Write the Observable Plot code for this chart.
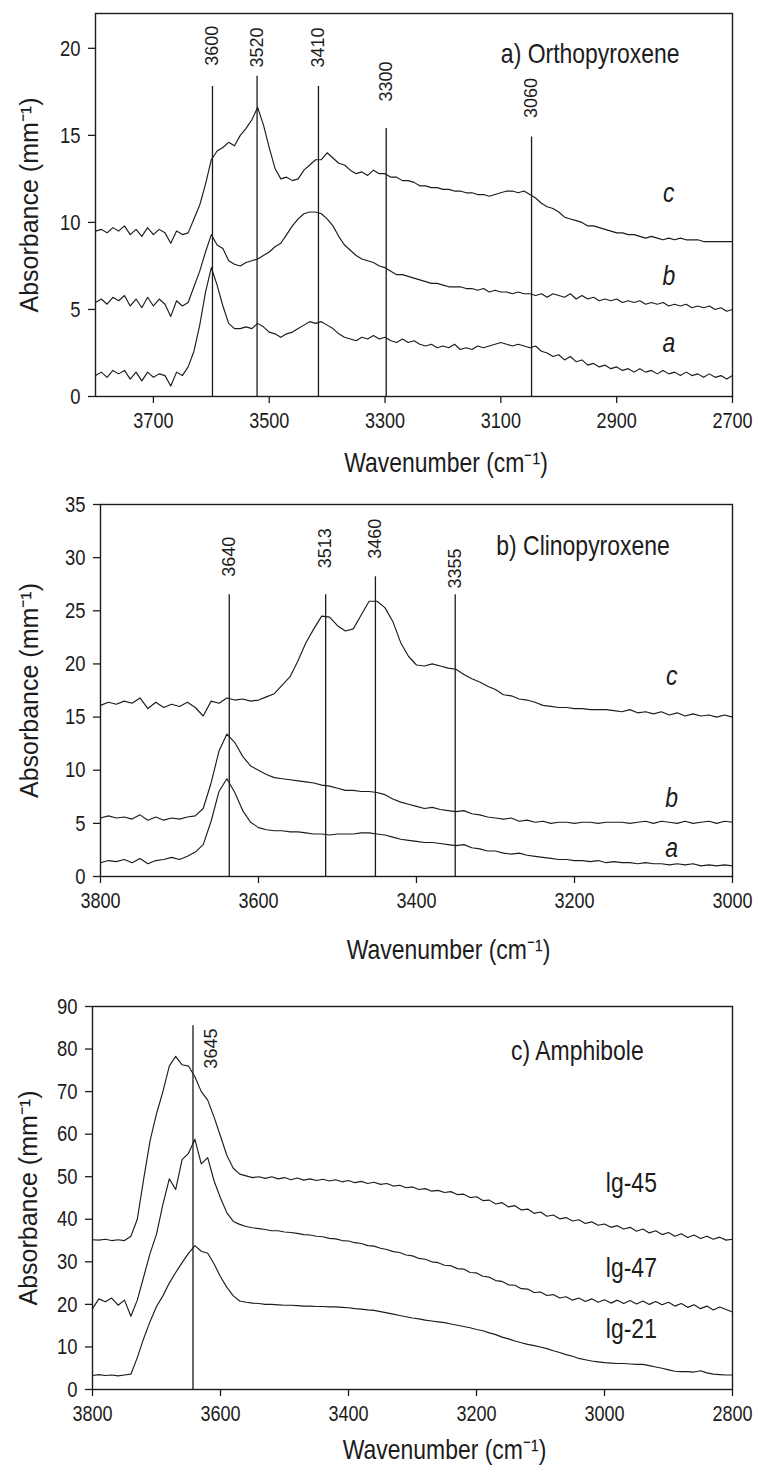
<!DOCTYPE html>
<html>
<head>
<meta charset="utf-8">
<script src="https://cdn.jsdelivr.net/npm/d3@7"></script>
<script src="https://cdn.jsdelivr.net/npm/@observablehq/plot@0.6"></script>
<style>
  html, body { margin: 0; padding: 0; background: #fff; }
  #chart { width: 758px; }
  #chart svg { display: block; }
</style>
</head>
<body>
<div id="chart"></div>
<script>
// ---------- Panel a) Orthopyroxene : wavenumber grid 3800 → 2700, step 10 ----------
const aStart = 3800, aStep = 10;
const aSeriesC = [9.5,9.6,9.4,9.7,9.5,9.8,9.3,9.6,9.2,9.7,9.3,9.6,9.4,8.8,9.5,9.3,9.4,10.2,11.0,12.2,13.6,14.1,14.3,14.6,14.4,15.0,15.4,15.9,16.6,15.6,14.3,13.1,12.5,12.6,12.4,12.5,13.0,13.3,13.6,13.6,14.0,13.7,13.4,13.3,13.0,12.8,12.9,12.7,13.0,12.8,12.8,12.6,12.6,12.4,12.4,12.3,12.1,12.1,12.0,12.0,11.9,11.9,11.8,11.8,11.7,11.7,11.6,11.6,11.5,11.6,11.7,11.8,11.8,11.7,11.8,11.6,11.4,11.1,10.9,10.8,10.6,10.3,10.2,10.1,10.0,9.8,9.8,9.7,9.6,9.5,9.4,9.4,9.3,9.3,9.2,9.1,9.2,9.1,9.0,9.1,9.0,9.1,9.0,9.0,9.0,8.9,8.9,8.9,8.9,8.9,8.9];
const aSeriesB = [5.4,5.6,5.3,5.7,5.5,5.8,5.2,5.6,5.1,5.7,5.2,5.6,5.3,4.6,5.5,5.2,5.4,6.3,7.2,8.3,9.3,8.7,8.5,7.8,7.6,7.5,7.7,7.8,7.9,8.1,8.3,8.6,8.8,9.3,9.8,10.2,10.5,10.6,10.6,10.5,10.2,9.8,9.2,8.7,8.4,8.1,7.9,7.8,7.7,7.5,7.4,7.2,7.0,7.0,6.9,6.8,6.7,6.6,6.5,6.5,6.4,6.3,6.3,6.3,6.2,6.2,6.1,6.2,6.0,6.1,6.0,6.0,5.9,6.0,5.9,5.9,5.8,5.9,5.7,5.9,5.8,5.7,5.9,5.6,5.8,5.6,5.7,5.5,5.6,5.5,5.6,5.4,5.5,5.4,5.5,5.3,5.4,5.3,5.4,5.2,5.3,5.2,5.3,5.1,5.2,5.1,5.2,5.0,5.1,4.9,5.0];
const aSeriesA = [1.2,1.4,1.1,1.5,1.3,1.5,1.0,1.4,0.9,1.4,1.1,1.3,1.2,0.6,1.4,1.2,1.7,2.6,4.1,6.0,7.4,6.4,5.2,4.2,3.9,3.9,4.0,3.9,4.2,4.0,3.7,3.6,3.4,3.6,3.7,3.9,4.1,4.3,4.2,4.3,4.1,3.9,3.6,3.4,3.3,3.2,3.4,3.3,3.5,3.3,3.4,3.2,3.1,3.3,3.1,3.2,3.0,2.9,3.0,2.8,2.9,2.8,3.0,2.7,2.8,2.7,2.9,2.8,2.9,3.0,3.1,3.0,2.9,3.0,2.9,2.8,2.9,2.6,2.5,2.3,2.4,2.1,2.3,2.0,2.1,1.8,1.9,1.7,1.8,1.6,1.7,1.5,1.6,1.4,1.6,1.4,1.5,1.3,1.5,1.3,1.4,1.2,1.4,1.2,1.3,1.1,1.3,1.1,1.2,1.0,1.2];
const aXTicks = [3700, 3500, 3300, 3100, 2900, 2700];
const aYTicks = [0, 5, 10, 15, 20];
const aMarkerX = [3598, 3521, 3415, 3298, 3047];
const aMarkerTop = [17.8, 18.4, 17.8, 15.4, 14.9];
const aMarkerLabel = ["3600", "3520", "3410", "3300", "3060"];
const aMarkerLabelY = [19.0, 18.9, 18.9, 16.95, 16.0];
const aCurveNames = ["c", "b", "a"];
const aCurveLabelY = [11.7, 6.9, 3.1];
const aCurveLabelX = 2810;
const aTitle = "a) Orthopyroxene";

// ---------- Panel b) Clinopyroxene : 3800 → 3000, step 10 ----------
const bStart = 3800, bStep = 10;
const bSeriesC = [16.1,16.4,16.2,16.5,16.3,16.8,15.8,16.4,15.9,16.2,16.0,16.4,15.9,15.1,16.5,16.3,16.8,16.6,16.7,16.5,16.6,16.9,17.2,18.0,18.8,20.3,22.0,23.3,24.5,24.4,23.6,23.1,23.3,24.6,25.9,25.9,25.3,24.0,22.0,20.7,19.9,19.8,20.0,19.8,19.6,19.5,19.0,18.6,18.3,17.9,17.6,17.1,17.0,16.7,16.6,16.4,16.1,16.0,15.9,15.9,15.8,15.8,15.7,15.7,15.7,15.6,15.5,15.7,15.4,15.5,15.3,15.5,15.2,15.4,15.1,15.3,15.1,15.2,15.0,15.2,15.0];
const bSeriesB = [5.5,5.7,5.5,5.6,5.4,5.8,5.3,5.6,5.3,5.5,5.4,5.6,5.7,6.4,8.8,11.8,13.4,12.6,11.3,10.4,10.0,9.6,9.3,9.2,9.1,9.0,8.9,8.8,8.6,8.5,8.3,8.1,8.1,8.0,8.0,7.9,7.7,7.3,7.0,6.8,6.6,6.4,6.5,6.3,6.2,6.1,6.2,5.9,5.8,5.6,5.5,5.4,5.5,5.2,5.3,5.1,5.2,5.0,5.1,5.1,5.0,5.1,5.1,5.0,5.1,5.1,5.1,5.0,5.1,5.2,5.0,5.2,5.1,5.0,5.2,5.0,5.1,5.2,5.0,5.2,5.1];
const bSeriesA = [1.3,1.5,1.4,1.6,1.3,1.7,1.2,1.5,1.6,1.8,1.6,1.9,2.3,3.0,5.2,8.0,9.2,7.9,6.2,5.1,4.6,4.4,4.3,4.3,4.2,4.2,4.1,4.0,4.0,3.9,4.0,4.0,4.0,4.1,4.1,4.0,3.9,3.7,3.5,3.4,3.3,3.2,3.2,3.1,3.0,2.9,3.0,2.7,2.6,2.4,2.4,2.2,2.1,2.2,2.0,1.9,1.8,1.7,1.6,1.6,1.5,1.5,1.4,1.5,1.3,1.4,1.3,1.3,1.2,1.3,1.2,1.2,1.1,1.2,1.1,1.2,1.0,1.1,1.0,1.1,1.0];
const bXTicks = [3800, 3600, 3400, 3200, 3000];
const bYTicks = [0, 5, 10, 15, 20, 25, 30, 35];
const bMarkerX = [3637, 3515, 3452, 3351];
const bMarkerTop = [26.5, 26.5, 28.2, 26.5];
const bMarkerLabel = ["3640", "3513", "3460", "3355"];
const bMarkerLabelY = [28.2, 29.0, 29.9, 27.1];
const bCurveNames = ["c", "b", "a"];
const bCurveLabelY = [18.9, 7.4, 2.7];
const bCurveLabelX = 3077;
const bTitle = "b) Clinopyroxene";

// ---------- Panel c) Amphibole : 3800 → 2800, step 10 ----------
const cStart = 3800, cStep = 10;
const cSeries45 = [35.2,35.1,35.3,35.0,35.2,35.0,36.0,40.0,49.5,58.5,64.8,70.0,76.0,78.3,76.3,76.0,73.5,70.0,68.0,64.0,59.5,55.0,52.0,50.6,50.2,49.8,50.0,49.6,50.0,49.5,49.8,49.3,49.7,49.2,49.5,49.1,49.4,49.0,49.3,48.8,49.1,48.6,48.9,48.4,48.7,48.2,48.4,47.8,48.0,47.4,47.6,47.0,47.2,46.6,46.8,46.3,46.5,45.8,45.9,45.1,45.3,44.4,44.5,43.6,43.9,42.9,43.2,42.2,42.4,41.4,41.7,40.7,41.0,40.1,40.4,39.6,39.9,39.0,39.4,38.6,38.9,38.1,38.5,37.7,38.1,37.2,37.7,36.8,37.3,36.4,36.9,36.0,36.6,35.7,36.3,35.5,36.0,35.3,35.8,35.1,35.3];
const cSeries47 = [19.0,21.3,20.6,21.5,19.8,21.0,17.2,21.0,26.5,32.0,36.5,43.5,49.5,47.0,54.0,55.5,58.8,53.0,54.5,49.0,45.0,41.5,39.5,38.8,38.3,38.0,37.8,37.6,37.3,37.3,37.0,36.9,36.7,36.4,36.3,36.0,35.9,35.5,35.4,35.0,34.9,34.5,34.3,33.8,33.7,33.2,32.9,32.4,32.2,31.6,31.4,30.8,30.6,30.0,29.8,29.2,29.1,28.4,28.3,27.5,27.4,26.6,26.4,25.6,25.4,24.6,24.5,23.7,23.6,22.8,22.9,22.1,22.3,21.5,21.8,21.0,21.5,20.7,21.3,20.5,21.1,20.3,21.0,20.2,20.9,20.1,20.8,20.0,20.7,19.9,20.5,19.6,20.2,19.3,19.9,19.0,19.6,18.7,19.4,18.8,18.2];
const cSeries21 = [3.3,3.5,3.3,3.4,3.2,3.4,3.6,7.5,12.0,16.0,19.5,22.0,25.0,27.5,29.8,32.0,33.8,32.5,32.0,29.5,26.5,24.0,22.0,20.8,20.5,20.3,20.2,20.0,20.0,19.9,19.8,19.8,19.7,19.6,19.6,19.5,19.5,19.4,19.4,19.3,19.2,19.0,18.9,18.7,18.6,18.3,18.0,17.7,17.4,17.1,16.8,16.6,16.3,16.1,15.9,15.7,15.4,15.1,14.8,14.5,14.1,13.8,13.3,12.9,12.3,11.9,11.4,11.0,10.6,10.3,10.0,9.6,9.1,8.7,8.2,7.8,7.3,7.0,6.7,6.5,6.3,6.2,6.1,6.1,6.0,5.9,5.9,5.6,5.3,5.0,4.6,4.3,4.2,4.2,4.1,4.4,3.9,3.6,3.5,3.4,3.4];
const cXTicks = [3800, 3600, 3400, 3200, 3000, 2800];
const cYTicks = [0, 10, 20, 30, 40, 50, 60, 70, 80, 90];
const cMarkerX = [3643];
const cMarkerTop = [85.5];
const cMarkerLabel = ["3645"];
const cMarkerLabelX = [3615];
const cMarkerLabelY = [75.4];
const cCurveNames = ["lg-45", "lg-47", "lg-21"];
const cCurveLabelY = [48.6, 28.6, 14.3];
const cCurveLabelX = 2958;
const cTitle = "c) Amphibole";

const xLabel = "Wavenumber (cm\u207B\u00B9)";
const yLabel = "Absorbance (mm\u207B\u00B9)";

// ---------- drawing ----------
const FONT = "'Liberation Sans', Arial, Helvetica, sans-serif";
const WIDE = "Liberation Sans, Arial, Helvetica, sans-serif"; // texts kept at normal width
const INK = "#1c1c1c";
const SQUEEZE = 0.82; // narrow (Arial-Narrow-like) lettering of the reference

function rowsOf(start, step, named) {
  const rows = [];
  for (const [name, vals] of named) {
    vals.forEach((v, i) => rows.push({wn: start - i * step, v, s: name}));
  }
  return rows;
}

function panel(o) {
  const markers = o.markerX.map((x, i) => ({
    x, top: o.markerTop[i], label: o.markerLabel[i],
    lx: o.markerLabelX ? o.markerLabelX[i] : x, ly: o.markerLabelY[i]
  }));
  const curveLabels = o.curveNames.map((n, i) => ({n, x: o.curveLabelX, y: o.curveLabelY[i]}));
  return Plot.plot({
    width: 758,
    height: o.height,
    marginTop: o.mt, marginBottom: o.mb, marginLeft: o.ml, marginRight: o.mr,
    style: {fontFamily: FONT, color: INK, background: "#fff", overflow: "visible"},
    x: {domain: o.xDomain},
    y: {domain: o.yDomain},
    marks: [
      Plot.line(o.rows, {x: "wn", y: "v", z: "s", stroke: INK, strokeWidth: 1.15}),
      Plot.ruleX(markers, {x: "x", y1: () => 0, y2: "top", stroke: INK, strokeWidth: 1.3}),
      Plot.text(markers, {x: "lx", y: "ly", text: "label", rotate: -90, textAnchor: "start", fontFamily: WIDE, fontSize: 18, fill: INK}),
      Plot.text(curveLabels, {x: "x", y: "y", text: "n", fontSize: 28, fontStyle: o.curveItalic ? "italic" : "normal", fill: INK}),
      Plot.text([o.title], {x: () => o.titleX, y: () => o.titleY, text: d => d, textAnchor: "start", fontSize: 28, fill: INK}),
      Plot.frame({stroke: INK, strokeWidth: 1.4}),
      Plot.axisX({ticks: o.xTicks, tickFormat: d => String(d), tickSize: 7, tickPadding: 9, fontSize: 22, label: null, strokeWidth: 1.3}),
      Plot.axisY({ticks: o.yTicks, tickFormat: d => String(d), tickSize: 7, tickPadding: 8, fontSize: 22.5, label: null, strokeWidth: 1.3}),
      Plot.text([xLabel], {frameAnchor: "bottom", lineAnchor: "middle", textAnchor: "middle", dx: 32, dy: o.xLabelDy, text: d => d, fontSize: 28, fill: INK}),
      Plot.text([yLabel], {frameAnchor: "left", lineAnchor: "middle", textAnchor: "middle", dx: o.yLabelDx, rotate: -90, text: d => d, fontFamily: WIDE, fontSize: 25, fill: INK})
    ]
  });
}

// horizontally condense all lettering (scale about each text's own anchor),
// except the texts drawn in the WIDE family
function condense(svg) {
  svg.querySelectorAll("text").forEach(t => {
    for (let el = t; el && el !== svg; el = el.parentNode) {
      if (el.getAttribute && el.getAttribute("font-family") === WIDE) return;
    }
    const x = parseFloat(t.getAttribute("x"));
    if (x && isFinite(x) && !String(t.getAttribute("x")).includes("em")) t.setAttribute("x", x / SQUEEZE);
    const tr = t.getAttribute("transform") || "";
    t.setAttribute("transform", (tr + " scale(" + SQUEEZE + ",1)").trim());
  });
}

const chart = document.getElementById("chart");
const panels = [
  panel({
    height: 475, mt: 13, mb: 79, ml: 95, mr: 26,
    xDomain: [3800, 2700], yDomain: [0, 22],
    rows: rowsOf(aStart, aStep, [["c", aSeriesC], ["b", aSeriesB], ["a", aSeriesA]]),
    xTicks: aXTicks, yTicks: aYTicks,
    markerX: aMarkerX, markerTop: aMarkerTop, markerLabel: aMarkerLabel, markerLabelY: aMarkerLabelY,
    curveNames: aCurveNames, curveLabelY: aCurveLabelY, curveLabelX: aCurveLabelX, curveItalic: true,
    title: aTitle, titleX: 3100, titleY: 19.7,
    xLabelDy: 67, yLabelDx: -66
  }),
  panel({
    height: 490, mt: 29, mb: 89, ml: 100, mr: 26,
    xDomain: [3800, 3000], yDomain: [0, 35],
    rows: rowsOf(bStart, bStep, [["c", bSeriesC], ["b", bSeriesB], ["a", bSeriesA]]),
    xTicks: bXTicks, yTicks: bYTicks,
    markerX: bMarkerX, markerTop: bMarkerTop, markerLabel: bMarkerLabel, markerLabelY: bMarkerLabelY,
    curveNames: bCurveNames, curveLabelY: bCurveLabelY, curveLabelX: bCurveLabelX, curveItalic: true,
    title: bTitle, titleX: 3299, titleY: 31.1,
    xLabelDy: 74, yLabelDx: -71
  }),
  panel({
    height: 510, mt: 41, mb: 86, ml: 92, mr: 26,
    xDomain: [3800, 2800], yDomain: [0, 90],
    rows: rowsOf(cStart, cStep, [["lg-45", cSeries45], ["lg-47", cSeries47], ["lg-21", cSeries21]]),
    xTicks: cXTicks, yTicks: cYTicks,
    markerX: cMarkerX, markerTop: cMarkerTop, markerLabel: cMarkerLabel, markerLabelX: cMarkerLabelX, markerLabelY: cMarkerLabelY,
    curveNames: cCurveNames, curveLabelY: cCurveLabelY, curveLabelX: cCurveLabelX, curveItalic: false,
    title: cTitle, titleX: 3146, titleY: 79.6,
    xLabelDy: 61, yLabelDx: -64
  })
];
panels.forEach(svg => { chart.append(svg); condense(svg); });
</script>
</body>
</html>
